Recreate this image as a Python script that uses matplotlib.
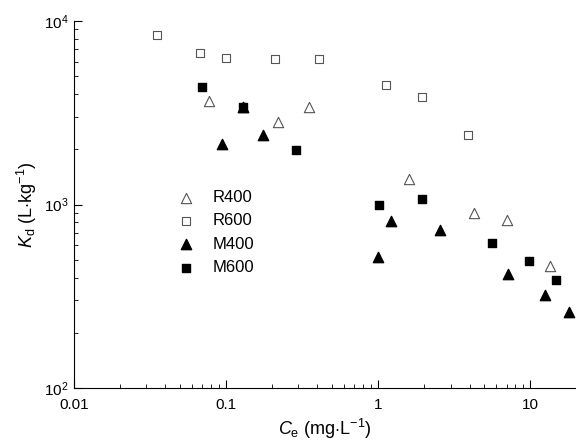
import matplotlib.pyplot as plt
import matplotlib.ticker as mt

plt.rcParams['font.family'] = ['Liberation Sans', 'DejaVu Sans']
plt.rcParams['mathtext.fontset'] = 'custom'
plt.rcParams['mathtext.rm'] = 'Liberation Sans'
plt.rcParams['mathtext.it'] = 'Liberation Sans:italic'

r400_x = [0.078, 0.13, 0.22, 0.35, 1.6, 4.3, 7.0, 13.5]
r400_y = [3650, 3400, 2800, 3400, 1380, 900, 820, 465]
r600_x = [0.035, 0.068, 0.1, 0.21, 0.41, 1.12, 1.95, 3.9]
r600_y = [8400, 6700, 6300, 6200, 6200, 4500, 3850, 2400]
m400_x = [0.095, 0.13, 0.175, 1.0, 1.22, 2.55, 7.1, 12.5, 18.0]
m400_y = [2150, 3400, 2400, 520, 810, 730, 420, 320, 260]
m600_x = [0.07, 0.13, 0.29, 1.02, 1.95, 5.6, 9.8, 14.8]
m600_y = [4350, 3400, 1970, 990, 1070, 620, 490, 390]

fig, ax = plt.subplots(figsize=(5.76, 4.48), dpi=100)
fig.subplots_adjust(left=0.128, right=1.0, top=0.953, bottom=0.134)

ax.scatter(r400_x, r400_y, marker='^', s=55, facecolors='white', edgecolors='#555555', linewidths=0.8, label='R400', zorder=3)
ax.scatter(r600_x, r600_y, marker='s', s=40, facecolors='white', edgecolors='#555555', linewidths=0.8, label='R600', zorder=3)
ax.scatter(m400_x, m400_y, marker='^', s=55, color='black', label='M400', zorder=3)
ax.scatter(m600_x, m600_y, marker='s', s=40, color='black', label='M600', zorder=3)

ax.set_xscale('log')
ax.set_yscale('log')
ax.set_xlim(0.01, 20)
ax.set_ylim(100, 10000)
ax.spines['top'].set_visible(False)
ax.spines['right'].set_visible(False)
ax.tick_params(which='both', direction='in', labelsize=11)
ax.tick_params(which='major', length=6)
ax.tick_params(which='minor', length=3)
ax.tick_params(axis='x', pad=7)
ax.xaxis.set_major_formatter(mt.FuncFormatter(lambda v, p: f'{v:g}'))

ax.set_xlabel(r'$C_\mathrm{e}$ (mg$\cdot$L$^{-1}$)', fontsize=13)
ax.set_ylabel(r'$K_\mathrm{d}$ (L$\cdot$kg$^{-1}$)', fontsize=13)
ax.legend(loc='upper left', bbox_to_anchor=(0.16, 0.58), frameon=False, fontsize=12,
          handletextpad=0.6, labelspacing=0.5)

fig.savefig('out.png')
